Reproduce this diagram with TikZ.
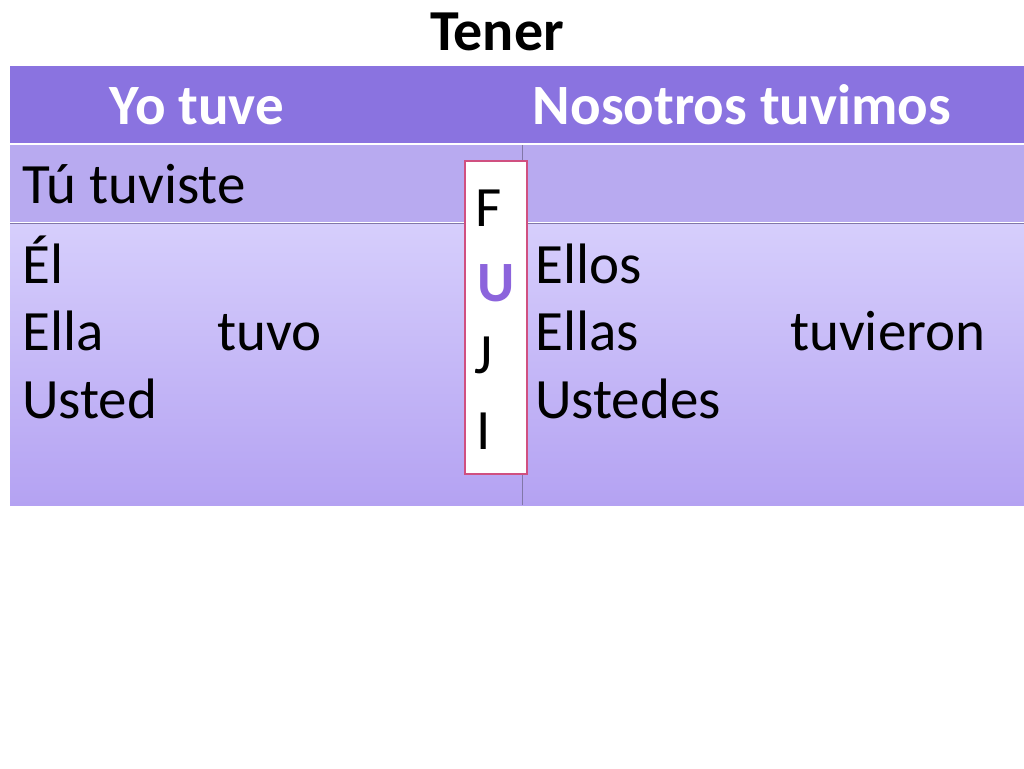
\documentclass[tikz,border=0pt]{standalone}
\usepackage{fontspec}
\setmainfont{Carlito}
\usetikzlibrary{positioning}
\definecolor{hd}{RGB}{138, 115, 224}
\definecolor{rtwo}{RGB}{184, 170, 240}
\definecolor{rtop}{RGB}{214, 206, 252}
\definecolor{rbot}{RGB}{180, 162, 242}
\definecolor{pk}{RGB}{208, 80, 128}
\definecolor{pu}{RGB}{140, 100, 220}
\begin{document}
\begin{tikzpicture}[x=1pt, y=-1pt,
  every node/.style={inner sep=0pt},
  cell/.style={anchor=base west, font=\fontsize{57}{60}\selectfont},
  head/.style={anchor=base, text=white, font=\bfseries\fontsize{57}{60}\selectfont},
  fuji/.style={anchor=base, font=\fontsize{57}{60}\selectfont}]
\useasboundingbox (0,0) rectangle (1024,768);
\fill[hd] (10,66) rectangle (1024,143);
\fill[rtwo] (10,145) rectangle (1024,222);
\shade[top color=rtop, bottom color=rbot] (10,224) rectangle (1024,505);
\draw[white, line width=1.5pt] (10,144) -- (1024,144);
\draw[rtwo!70!black, line width=0.6pt] (10,223) -- (1024,223);
\draw[rtwo!70!black, line width=0.6pt] (522,145) -- (522,505);
\node (tener) [anchor=base, font=\bfseries\fontsize{58}{60}\selectfont] at (497,50) {Tener};
\node (yo) [head] at (197,124) {Yo tuve};
\node (nos) [head] at (742,124) {Nosotros tuvimos};
\node (tu) [cell] at (22,203) {Tú tuviste};
\node (el) [cell] at (22,283) {Él};
\node (ella) [cell] at (22,350) {Ella};
\node (tuvo) [cell] at (217,350) {tuvo};
\node (usted) [cell] at (22,418) {Usted};
\node (ellos) [cell] at (535,283) {Ellos};
\node (ellas) [cell] at (535,350) {Ellas};
\node (tuvieron) [cell] at (790,350) {tuvieron};
\node (ustedes) [cell] at (535,418) {Ustedes};
\draw[pk, fill=white, line width=2pt] (465,161) rectangle (527,474);
\node (f) [fuji] at (489,226) {F};
\node (u) [fuji, text=pu, font=\bfseries\fontsize{57}{60}\selectfont] at (496,301) {U};
\node (j) [fuji] at (484,373) {J};
\node (i) [fuji] at (484,449) {I};
\end{tikzpicture}
\end{document}
